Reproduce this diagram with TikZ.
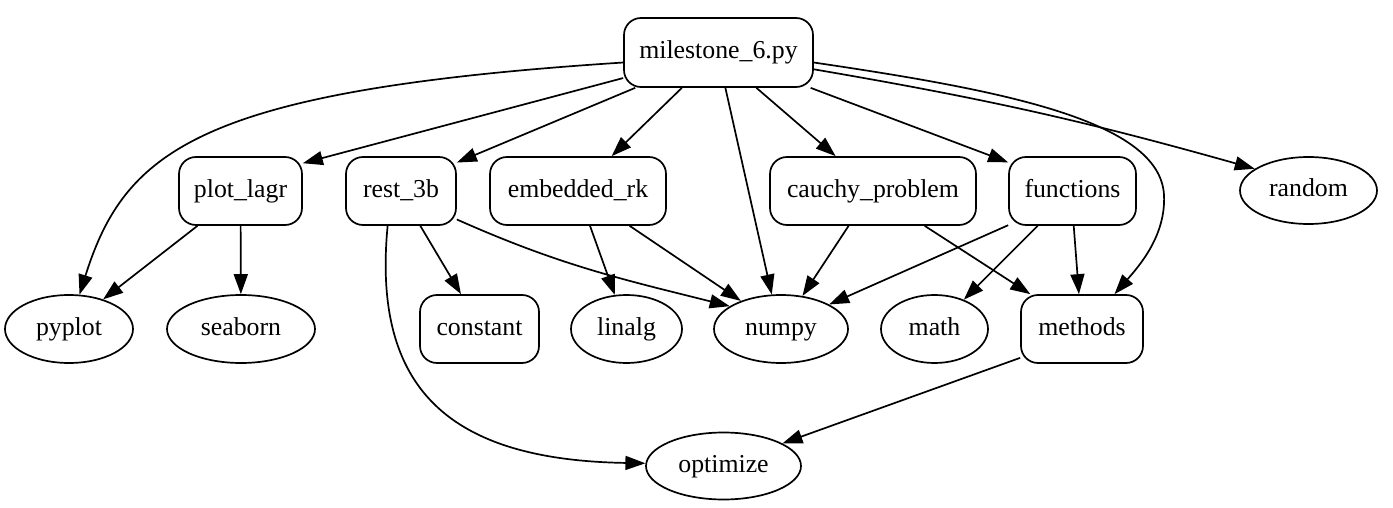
\documentclass[tikz,border=0pt]{standalone}
\usepackage{fontspec}
\setmainfont{Liberation Serif}
\usetikzlibrary{arrows.meta,shapes.geometric}
\begin{document}
\begin{tikzpicture}[x=1pt,y=-1pt,
  every node/.style={font=\fontsize{25.8}{30}\selectfont, line width=1.7pt, inner sep=0pt, text height=18pt, text depth=6pt},
  modbox/.style={draw, rounded corners=17pt, minimum height=68pt},
  libell/.style={draw, ellipse, minimum height=68pt},
  dep/.style={line width=1.7pt, -{Triangle[length=20pt,width=14pt]}}]
\useasboundingbox (0,0) rectangle (1393,508);
% nodes
\node[modbox, minimum width=189pt, minimum height=69pt] (ms) at (718.5,52.5) {milestone\_6.py};
\node[modbox, minimum width=123pt] (pl) at (240.5,191) {plot\_lagr};
\node[modbox, minimum width=110pt] (rb) at (401,191) {rest\_3b};
\node[modbox, minimum width=176pt] (em) at (578,191) {embedded\_rk};
\node[modbox, minimum width=206pt] (cp) at (873,191) {cauchy\_problem};
\node[modbox, minimum width=127pt] (fn) at (1072.5,191) {functions};
\node[libell, minimum width=137pt, minimum height=67pt] (rd) at (1308.5,190.5) {random};
\node[libell, minimum width=128pt] (py) at (69,329) {pyplot};
\node[libell, minimum width=148pt] (sb) at (241,329) {seaborn};
\node[modbox, minimum width=119pt] (ct) at (479.5,329) {constant};
\node[libell, minimum width=111pt] (lg) at (626.5,329) {linalg};
\node[libell, minimum width=134pt] (np) at (781,329) {numpy};
\node[libell, minimum width=107pt] (mt) at (934.5,329) {math};
\node[modbox, minimum width=122pt] (me) at (1082,329) {methods};
\node[libell, minimum width=155pt, minimum height=67pt] (op) at (723.5,466) {optimize};
% edges
\draw[dep] (ms.186) .. controls (200,90) and (125,150) .. (py.73);
\draw[dep] (ms.195) -- (pl.24);
\draw[dep] (ms.203) -- (rb.27);
\draw[dep] (ms.224) -- (em.46);
\draw[dep] (ms.281) -- (np.105);
\draw[dep] (ms.317) -- (cp.137);
\draw[dep] (ms.339) -- (fn.156);
\draw[dep] (ms.354) .. controls (1000,90) and (1160,120) .. (1164,195) .. controls (1166,235) and (1140,265) .. (me.47);
\draw[dep] (ms.350) to[bend left=3] (rd.158);
\draw[dep] (pl.219) -- (py.41);
\draw[dep] (pl) -- (sb);
\draw[dep] (rb.299) -- (ct.118);
\draw[dep] (rb.333) to[out=-24,in=166] (np.156);
\draw[dep] (rb.249) .. controls (372,390) and (450,460) .. (op.178);
\draw[dep] (em.289) -- (lg.109);
\draw[dep] (em.326) -- (np.145);
\draw[dep] (cp.235) -- (np.57);
\draw[dep] (cp.326) -- (me.146);
\draw[dep] (fn.208) -- (np.27);
\draw[dep] (fn.225) -- (mt.45);
\draw[dep] (fn.272) -- (me.95);
\draw[dep] (me.205) -- (op.21);
\end{tikzpicture}
\end{document}
